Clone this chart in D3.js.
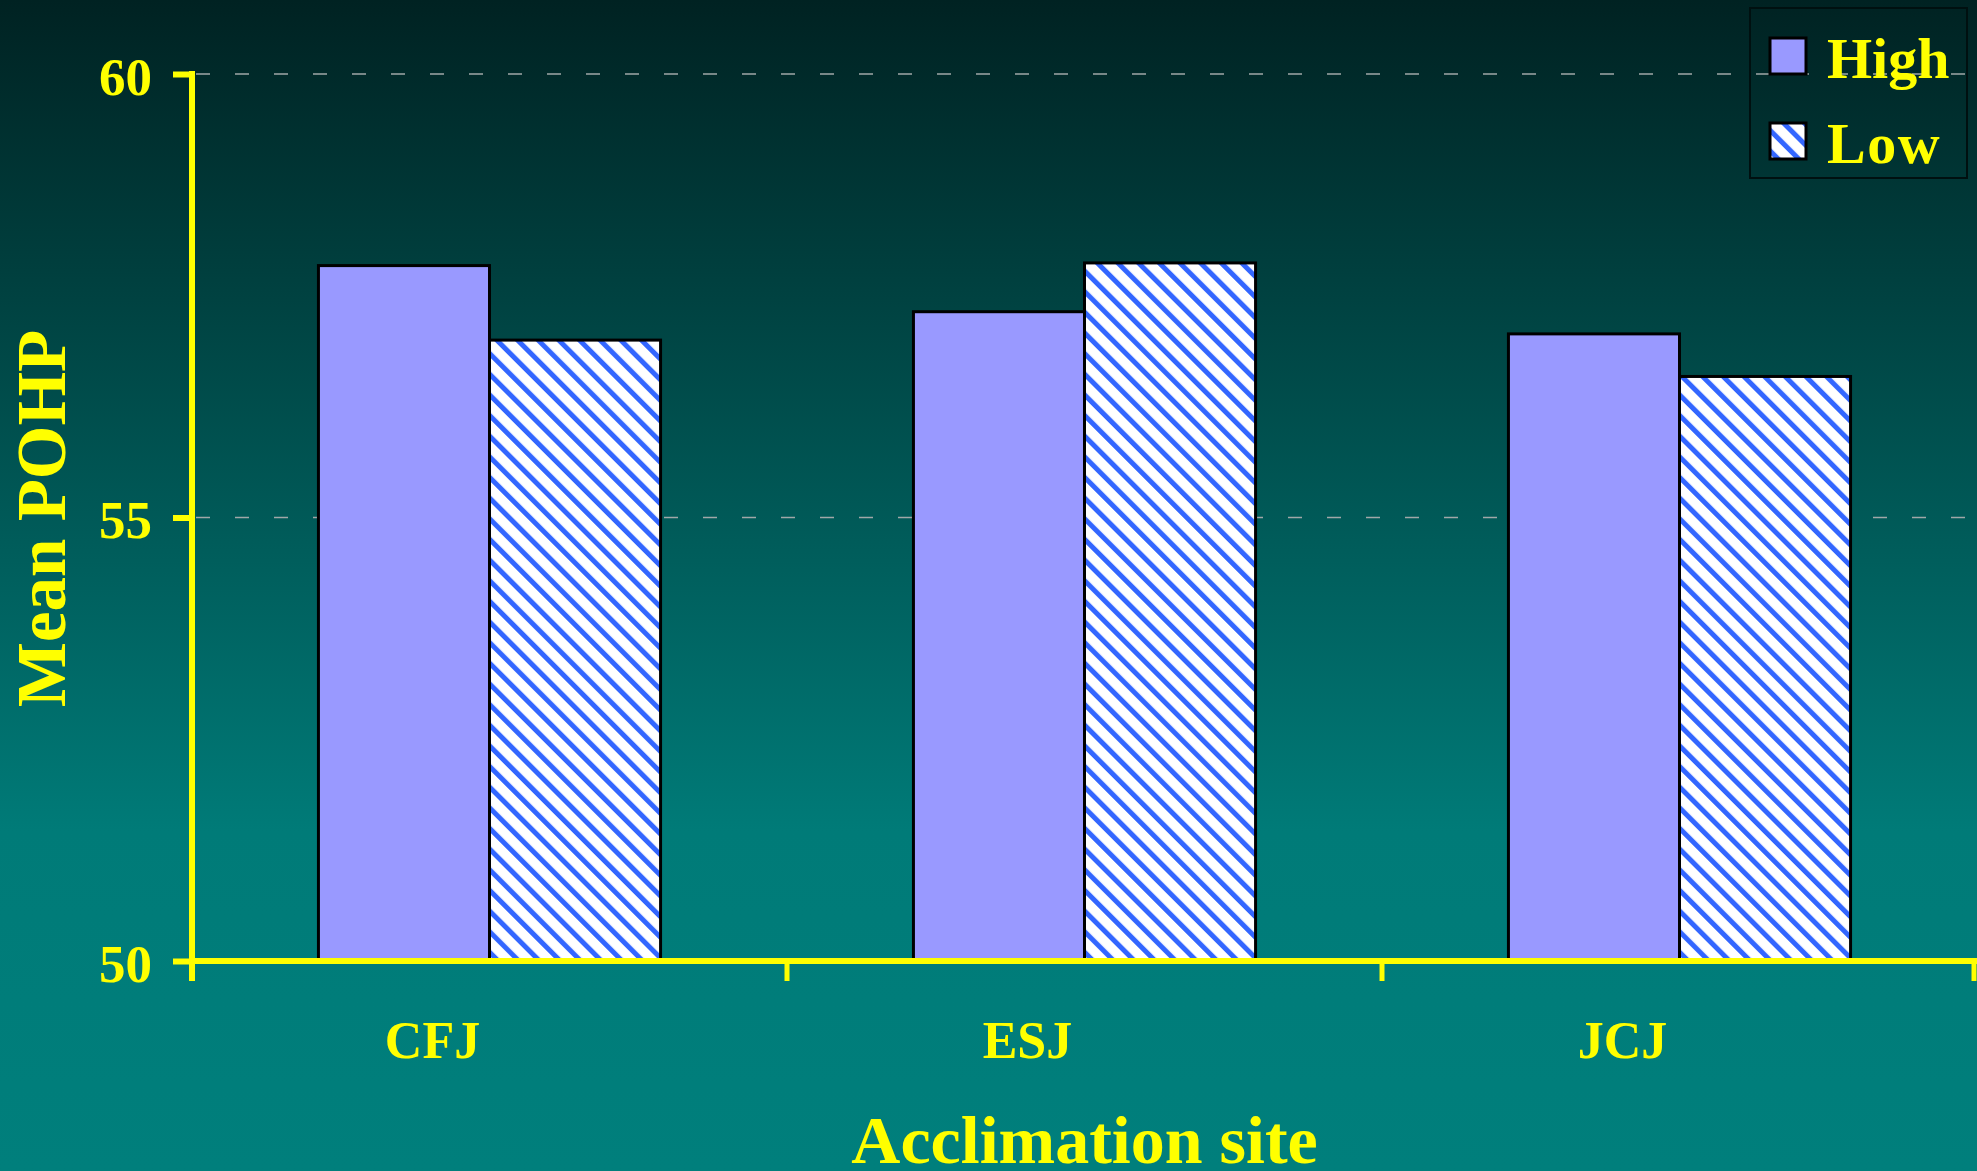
<!DOCTYPE html>
<html>
<head>
<meta charset="utf-8">
<script src="https://cdn.jsdelivr.net/npm/d3@7"></script>
<style>
  html, body { margin: 0; padding: 0; background: #007f7c; }
  svg { display: block; }
  text { font-family: "Liberation Serif", "Times New Roman", serif; font-weight: bold; fill: #ffff00; }
</style>
</head>
<body>
<svg id="chart" width="1977" height="1171"></svg>
<script>
// Mean POHP by acclimation site, for High and Low groups
const sites = ["CFJ", "ESJ", "JCJ"];
const groups = ["High", "Low"];
const highValues = [57.84, 57.32, 57.07];
const lowValues = [57.00, 57.87, 56.59];
const yTicks = [50, 55, 60];
const yLabel = "Mean POHP";
const xLabel = "Acclimation site";

const W = 1977, H = 1171;
const svg = d3.select("#chart");
const defs = svg.append("defs");

// Background: dark teal at the top fading to teal lower down
const bg = defs.append("linearGradient").attr("id", "bg")
  .attr("x1", 0).attr("y1", 0).attr("x2", 0).attr("y2", 1);
bg.append("stop").attr("offset", 0).attr("stop-color", "#002222");
bg.append("stop").attr("offset", 0.71).attr("stop-color", "#007b78");
bg.append("stop").attr("offset", 1).attr("stop-color", "#007f7c");
svg.append("rect").attr("width", W).attr("height", H).attr("fill", "url(#bg)");

// Diagonal hatch used for the Low series
const hatch = defs.append("pattern").attr("id", "hatch")
  .attr("patternUnits", "userSpaceOnUse")
  .attr("width", 14.6).attr("height", 14.6)
  .attr("patternTransform", "rotate(-45)");
hatch.append("rect").attr("width", 14.6).attr("height", 14.6).attr("fill", "#ffffff");
hatch.append("rect").attr("x", 0).attr("width", 5).attr("height", 14.6).attr("fill", "#3366ff");

const fills = { High: "#9999ff", Low: "url(#hatch)" };

const plot = { left: 192, right: 1974, top: 74, bottom: 961 };

const y = d3.scaleLinear().domain([50, 60]).range([plot.bottom, plot.top]);
const x = d3.scaleBand().domain(sites).range([plot.left, 1977])
  .paddingInner(0.425).paddingOuter(0.2125);
const xg = d3.scaleBand().domain(groups).range([0, x.bandwidth()]).padding(0);

const data = sites.map((s, i) => ({ site: s, High: highValues[i], Low: lowValues[i] }));

// Dashed gridlines
svg.append("g").selectAll("line").data([55, 60]).join("line")
  .attr("x1", plot.left + 4).attr("x2", W)
  .attr("y1", d => y(d)).attr("y2", d => y(d))
  .attr("stroke", "#a0a8a8").attr("stroke-width", 1.5)
  .attr("stroke-dasharray", "14 25");

// Bars
svg.append("g").selectAll("g").data(data).join("g")
  .attr("transform", d => `translate(${x(d.site)},0)`)
  .selectAll("rect").data(d => groups.map(g => ({ g, v: d[g] }))).join("rect")
  .attr("x", d => xg(d.g))
  .attr("width", xg.bandwidth())
  .attr("y", d => y(d.v))
  .attr("height", d => y(50) - y(d.v))
  .attr("fill", d => fills[d.g])
  .attr("stroke", "#000").attr("stroke-width", 3);

// Y axis
const yAxis = svg.append("g").attr("transform", `translate(${plot.left},0)`)
  .call(d3.axisLeft(y).tickValues(yTicks).tickSize(19).tickPadding(21).tickSizeOuter(0));
yAxis.select(".domain").remove();
yAxis.selectAll(".tick line").attr("stroke", "#ffff00").attr("stroke-width", 6);
yAxis.selectAll(".tick text").attr("font-size", 53).attr("dy", "0.38em")
  .attr("fill", "#ffff00").attr("font-family", "Liberation Serif").attr("font-weight", "bold");
svg.append("line").attr("x1", plot.left).attr("x2", plot.left)
  .attr("y1", plot.top - 3).attr("y2", plot.bottom + 20)
  .attr("stroke", "#ffff00").attr("stroke-width", 6);

// X axis with ticks at the category boundaries
const step = x.step();
const bounds = d3.range(sites.length + 1).map(i => Math.min(plot.left + i * step, plot.right));
svg.append("line").attr("x1", plot.left).attr("x2", plot.right + 3)
  .attr("y1", plot.bottom).attr("y2", plot.bottom)
  .attr("stroke", "#ffff00").attr("stroke-width", 6);
svg.append("g").selectAll("line").data(bounds.slice(1)).join("line")
  .attr("x1", d => d).attr("x2", d => d)
  .attr("y1", plot.bottom).attr("y2", plot.bottom + 20)
  .attr("stroke", "#ffff00").attr("stroke-width", 5);

svg.append("g").selectAll("text").data(sites).join("text")
  .attr("x", d => x(d) + x.bandwidth() / 2 - 57)
  .attr("y", 1058)
  .attr("text-anchor", "middle").attr("font-size", 52)
  .text(d => d);

// Axis titles
svg.append("text").attr("x", x(sites[1]) + x.bandwidth() / 2).attr("y", 1163)
  .attr("text-anchor", "middle").attr("font-size", 68).text(xLabel);
svg.append("text").attr("transform", `translate(65,${(plot.top + plot.bottom) / 2 + 1}) rotate(-90)`)
  .attr("text-anchor", "middle").attr("font-size", 69).text(yLabel);

// Legend
const lg = svg.append("g").attr("transform", "translate(1750,8)");
lg.append("rect").attr("width", 217).attr("height", 170)
  .attr("fill", "none").attr("stroke", "#001010").attr("stroke-width", 2);
groups.forEach((g, i) => {
  const row = lg.append("g").attr("transform", `translate(0,${i * 85})`);
  row.append("rect").attr("x", 20).attr("y", 30).attr("width", 36).attr("height", 36)
    .attr("fill", fills[g]).attr("stroke", "#000").attr("stroke-width", 3);
  row.append("text").attr("x", 77).attr("y", 70).attr("font-size", 58)
    .attr("letter-spacing", g === "Low" ? 1.5 : 0).text(g);
});
</script>
</body>
</html>
